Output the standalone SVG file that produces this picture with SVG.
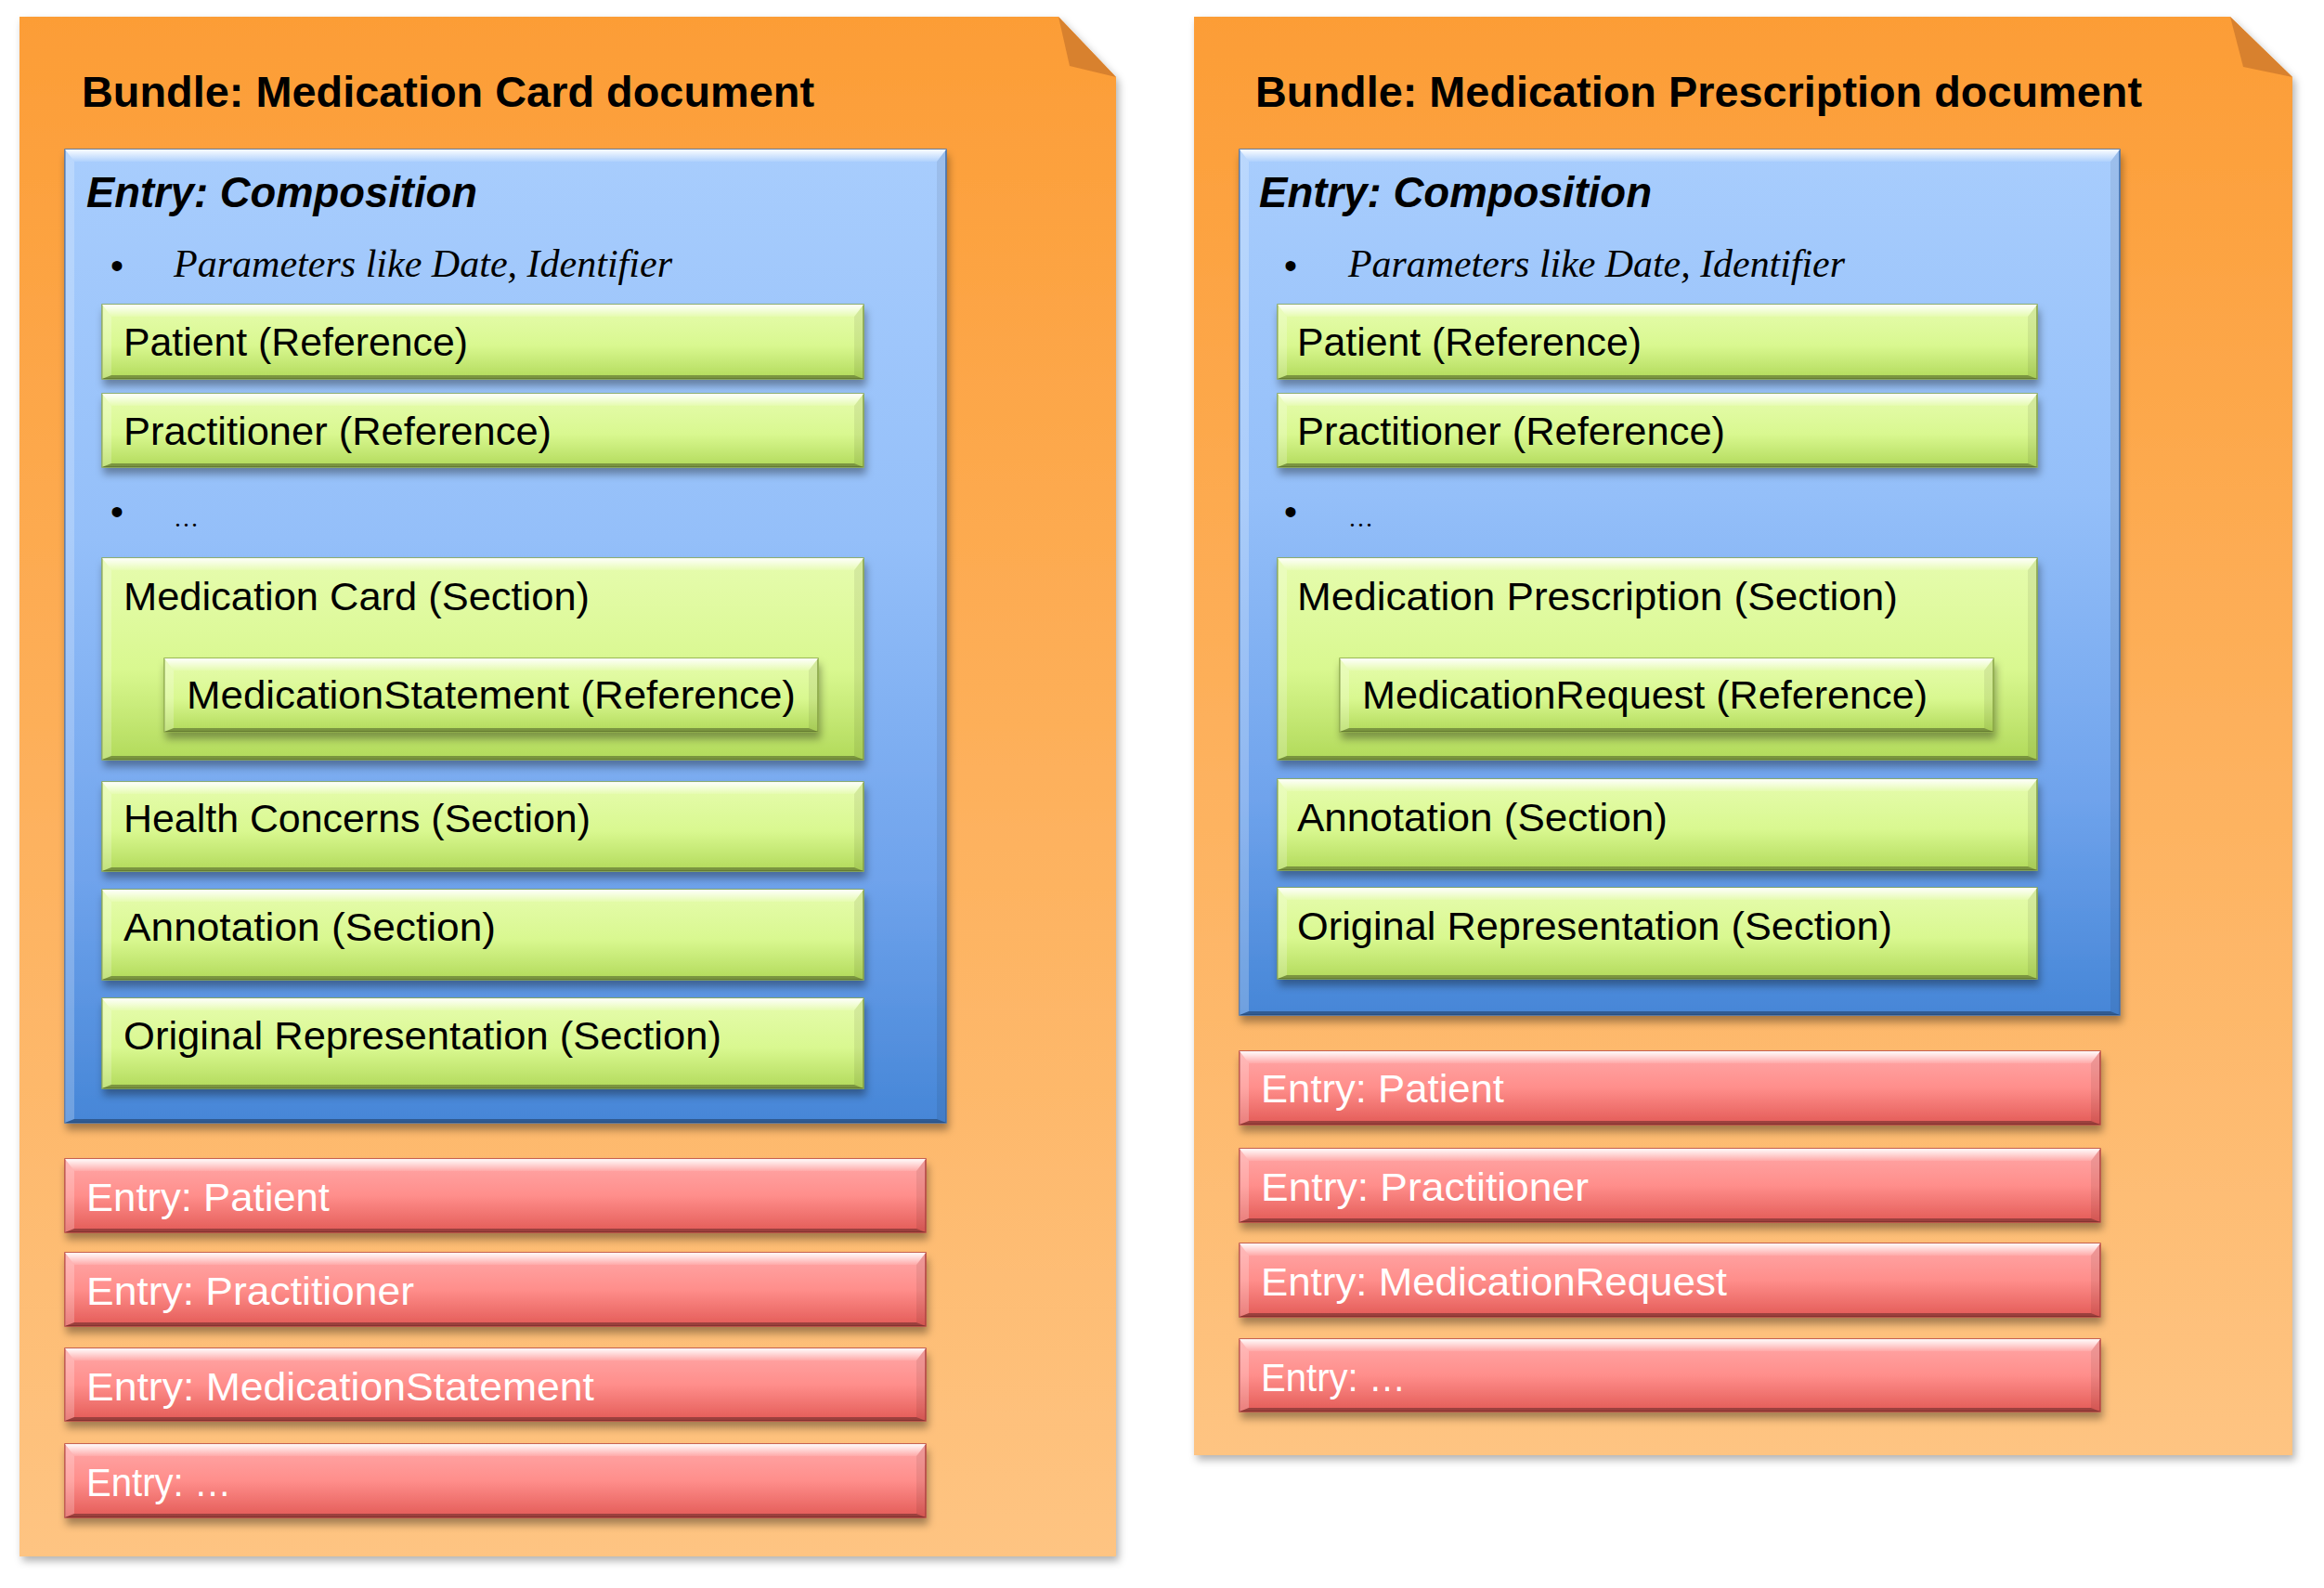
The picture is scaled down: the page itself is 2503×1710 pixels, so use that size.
<svg xmlns="http://www.w3.org/2000/svg" width="2503" height="1710" viewBox="0 0 2503 1710">
<defs>
<linearGradient id="gOr" x1="0" y1="0" x2="0" y2="1"><stop offset="0" stop-color="#FC9D36"/><stop offset="1" stop-color="#FEC482"/></linearGradient>
<linearGradient id="gBl" x1="0" y1="0" x2="0" y2="1"><stop offset="0" stop-color="#A8CDFD"/><stop offset="0.4" stop-color="#94BFF9"/><stop offset="0.75" stop-color="#6FA3EC"/><stop offset="1" stop-color="#4686D7"/></linearGradient>
<linearGradient id="gGr" x1="0" y1="0" x2="0" y2="1"><stop offset="0" stop-color="#E6FCAE"/><stop offset="0.55" stop-color="#D9F890"/><stop offset="1" stop-color="#B2DA5B"/></linearGradient>
<linearGradient id="gRd" x1="0" y1="0" x2="0" y2="1"><stop offset="0" stop-color="#FFA8A8"/><stop offset="0.5" stop-color="#FF8E8B"/><stop offset="1" stop-color="#E35B57"/></linearGradient>
<linearGradient id="gHi" x1="0" y1="0" x2="0" y2="1"><stop offset="0" stop-color="#FFFFFF" stop-opacity="0.95"/><stop offset="1" stop-color="#FFFFFF" stop-opacity="0.1"/></linearGradient>
<filter id="sh" x="-5%" y="-10%" width="110%" height="140%"><feDropShadow dx="2" dy="7" stdDeviation="4" flood-color="#000" flood-opacity="0.35"/></filter>
<filter id="shB" x="-5%" y="-5%" width="110%" height="110%"><feDropShadow dx="3" dy="5" stdDeviation="4" flood-color="#000" flood-opacity="0.3"/></filter>
<style>
.bund{fill:url(#gOr);filter:url(#shB)}
.fold{fill:#D8812E}
.blue{fill:url(#gBl);stroke:#3D72B8;stroke-width:1.5;filter:url(#sh)}
.grn{fill:url(#gGr);stroke:#8CA947;stroke-width:1.5;filter:url(#sh)}
.red{fill:url(#gRd);stroke:#B84646;stroke-width:1.5;filter:url(#sh)}
.bt{fill:url(#gHi)}
.bl{fill:#FFFFFF;fill-opacity:0.22}
.br{fill:#000;fill-opacity:0.07}
.bb{fill:#000;fill-opacity:0.32}
text{font-family:"Liberation Sans",Arial,sans-serif}
.t1{font-size:47px;font-weight:bold;fill:#000}
.t2{font-size:46px;font-weight:bold;font-style:italic;fill:#000}
.t3{font-family:"Liberation Serif","Times New Roman",serif;font-size:42px;font-style:italic;fill:#000}
.el{font-family:"Liberation Serif","Times New Roman",serif;font-size:28px;fill:#000}
.bul{font-size:40px;fill:#000;text-anchor:middle}
.tb{font-size:42px;fill:#000}
.tr{font-size:42px;fill:#FFFFFF}
</style>
</defs>
<rect width="2503" height="1710" fill="#FFFFFF"/>

<g id="bundle-card">
<path class="bund" d="M21,18 H1140 L1202,83 V1676 H21 Z"/>
<path class="fold" d="M1140,18 L1152,71 L1202,83 Z"/>
<text class="t1" x="88" y="115" textLength="789" lengthAdjust="spacingAndGlyphs">Bundle: Medication Card document</text>
</g>

<g id="composition-card">
<rect class="blue" x="70" y="161" width="949" height="1048"/>
<path class="bt" d="M70,161 H1019 L1009,174 H80 Z"/><path class="bl" d="M70,161 L80,174 V1205 L70,1209 Z"/><path class="br" d="M1019,161 L1009,174 V1205 L1019,1209 Z"/><path class="bb" d="M70,1209 L80,1205 H1009 L1019,1209 Z"/>
<text class="t2" x="93" y="223" textLength="421" lengthAdjust="spacingAndGlyphs">Entry: Composition</text>
<text class="bul" x="126" y="300">•</text>
<text class="t3" x="187" y="298" textLength="537" lengthAdjust="spacingAndGlyphs">Parameters like Date, Identifier</text>
<text class="bul" x="126" y="565">•</text>
<text class="el" x="187" y="567" textLength="27" lengthAdjust="spacingAndGlyphs">…</text>
</g>

<g id="card-patient-ref">
<rect class="grn" x="110" y="328" width="820" height="80"/>
<path class="bt" d="M110,328 H930 L920,341 H120 Z"/><path class="bl" d="M110,328 L120,341 V404 L110,408 Z"/><path class="br" d="M930,328 L920,341 V404 L930,408 Z"/><path class="bb" d="M110,408 L120,404 H920 L930,408 Z"/>
<text class="tb" x="133" y="383" textLength="371" lengthAdjust="spacingAndGlyphs">Patient (Reference)</text>
</g>
<g id="card-practitioner-ref">
<rect class="grn" x="110" y="424" width="820" height="79"/>
<path class="bt" d="M110,424 H930 L920,437 H120 Z"/><path class="bl" d="M110,424 L120,437 V499 L110,503 Z"/><path class="br" d="M930,424 L920,437 V499 L930,503 Z"/><path class="bb" d="M110,503 L120,499 H920 L930,503 Z"/>
<text class="tb" x="133" y="479" textLength="461" lengthAdjust="spacingAndGlyphs">Practitioner (Reference)</text>
</g>
<g id="card-medication-card-section">
<rect class="grn" x="110" y="601" width="820" height="217"/>
<path class="bt" d="M110,601 H930 L920,614 H120 Z"/><path class="bl" d="M110,601 L120,614 V814 L110,818 Z"/><path class="br" d="M930,601 L920,614 V814 L930,818 Z"/><path class="bb" d="M110,818 L120,814 H920 L930,818 Z"/>
<text class="tb" x="133" y="657" textLength="502" lengthAdjust="spacingAndGlyphs">Medication Card (Section)</text>
</g>
<g id="card-medicationstatement-ref">
<rect class="grn" x="177" y="709" width="704" height="79"/>
<path class="bt" d="M177,709 H881 L871,722 H187 Z"/><path class="bl" d="M177,709 L187,722 V784 L177,788 Z"/><path class="br" d="M881,709 L871,722 V784 L881,788 Z"/><path class="bb" d="M177,788 L187,784 H871 L881,788 Z"/>
<text class="tb" x="201" y="763" textLength="656" lengthAdjust="spacingAndGlyphs">MedicationStatement (Reference)</text>
</g>
<g id="card-health-concerns">
<rect class="grn" x="110" y="842" width="820" height="96"/>
<path class="bt" d="M110,842 H930 L920,855 H120 Z"/><path class="bl" d="M110,842 L120,855 V934 L110,938 Z"/><path class="br" d="M930,842 L920,855 V934 L930,938 Z"/><path class="bb" d="M110,938 L120,934 H920 L930,938 Z"/>
<text class="tb" x="133" y="896" textLength="503" lengthAdjust="spacingAndGlyphs">Health Concerns (Section)</text>
</g>
<g id="card-annotation">
<rect class="grn" x="110" y="958" width="820" height="97"/>
<path class="bt" d="M110,958 H930 L920,971 H120 Z"/><path class="bl" d="M110,958 L120,971 V1051 L110,1055 Z"/><path class="br" d="M930,958 L920,971 V1051 L930,1055 Z"/><path class="bb" d="M110,1055 L120,1051 H920 L930,1055 Z"/>
<text class="tb" x="133" y="1013" textLength="401" lengthAdjust="spacingAndGlyphs">Annotation (Section)</text>
</g>
<g id="card-original-representation">
<rect class="grn" x="110" y="1075" width="820" height="97"/>
<path class="bt" d="M110,1075 H930 L920,1088 H120 Z"/><path class="bl" d="M110,1075 L120,1088 V1168 L110,1172 Z"/><path class="br" d="M930,1075 L920,1088 V1168 L930,1172 Z"/><path class="bb" d="M110,1172 L120,1168 H920 L930,1172 Z"/>
<text class="tb" x="133" y="1130" textLength="644" lengthAdjust="spacingAndGlyphs">Original Representation (Section)</text>
</g>

<g id="card-entry-patient">
<rect class="red" x="70" y="1248" width="927" height="79"/>
<path class="bt" d="M70,1248 H997 L987,1261 H80 Z"/><path class="bl" d="M70,1248 L80,1261 V1323 L70,1327 Z"/><path class="br" d="M997,1248 L987,1261 V1323 L997,1327 Z"/><path class="bb" d="M70,1327 L80,1323 H987 L997,1327 Z"/>
<text class="tr" x="93" y="1304" textLength="262" lengthAdjust="spacingAndGlyphs">Entry: Patient</text>
</g>
<g id="card-entry-practitioner">
<rect class="red" x="70" y="1349" width="927" height="79"/>
<path class="bt" d="M70,1349 H997 L987,1362 H80 Z"/><path class="bl" d="M70,1349 L80,1362 V1424 L70,1428 Z"/><path class="br" d="M997,1349 L987,1362 V1424 L997,1428 Z"/><path class="bb" d="M70,1428 L80,1424 H987 L997,1428 Z"/>
<text class="tr" x="93" y="1405" textLength="353" lengthAdjust="spacingAndGlyphs">Entry: Practitioner</text>
</g>
<g id="card-entry-medicationstatement">
<rect class="red" x="70" y="1452" width="927" height="78"/>
<path class="bt" d="M70,1452 H997 L987,1465 H80 Z"/><path class="bl" d="M70,1452 L80,1465 V1526 L70,1530 Z"/><path class="br" d="M997,1452 L987,1465 V1526 L997,1530 Z"/><path class="bb" d="M70,1530 L80,1526 H987 L997,1530 Z"/>
<text class="tr" x="93" y="1508" textLength="547" lengthAdjust="spacingAndGlyphs">Entry: MedicationStatement</text>
</g>
<g id="card-entry-more">
<rect class="red" x="70" y="1555" width="927" height="79"/>
<path class="bt" d="M70,1555 H997 L987,1568 H80 Z"/><path class="bl" d="M70,1555 L80,1568 V1630 L70,1634 Z"/><path class="br" d="M997,1555 L987,1568 V1630 L997,1634 Z"/><path class="bb" d="M70,1634 L80,1630 H987 L997,1634 Z"/>
<text class="tr" x="93" y="1611" textLength="156" lengthAdjust="spacingAndGlyphs">Entry: …</text>
</g>

<g id="bundle-prescription">
<path class="bund" d="M1286,18 H2402 L2469,83 V1567 H1286 Z"/>
<path class="fold" d="M2402,18 L2416,72 L2469,83 Z"/>
<text class="t1" x="1352" y="115" textLength="955" lengthAdjust="spacingAndGlyphs">Bundle: Medication Prescription document</text>
</g>

<g id="composition-prescription">
<rect class="blue" x="1335" y="161" width="948" height="932"/>
<path class="bt" d="M1335,161 H2283 L2273,174 H1345 Z"/><path class="bl" d="M1335,161 L1345,174 V1089 L1335,1093 Z"/><path class="br" d="M2283,161 L2273,174 V1089 L2283,1093 Z"/><path class="bb" d="M1335,1093 L1345,1089 H2273 L2283,1093 Z"/>
<text class="t2" x="1356" y="223" textLength="423" lengthAdjust="spacingAndGlyphs">Entry: Composition</text>
<text class="bul" x="1390" y="300">•</text>
<text class="t3" x="1452" y="298" textLength="535" lengthAdjust="spacingAndGlyphs">Parameters like Date, Identifier</text>
<text class="bul" x="1390" y="565">•</text>
<text class="el" x="1452" y="567" textLength="27" lengthAdjust="spacingAndGlyphs">…</text>
</g>

<g id="presc-patient-ref">
<rect class="grn" x="1376" y="328" width="818" height="80"/>
<path class="bt" d="M1376,328 H2194 L2184,341 H1386 Z"/><path class="bl" d="M1376,328 L1386,341 V404 L1376,408 Z"/><path class="br" d="M2194,328 L2184,341 V404 L2194,408 Z"/><path class="bb" d="M1376,408 L1386,404 H2184 L2194,408 Z"/>
<text class="tb" x="1397" y="383" textLength="371" lengthAdjust="spacingAndGlyphs">Patient (Reference)</text>
</g>
<g id="presc-practitioner-ref">
<rect class="grn" x="1376" y="424" width="818" height="79"/>
<path class="bt" d="M1376,424 H2194 L2184,437 H1386 Z"/><path class="bl" d="M1376,424 L1386,437 V499 L1376,503 Z"/><path class="br" d="M2194,424 L2184,437 V499 L2194,503 Z"/><path class="bb" d="M1376,503 L1386,499 H2184 L2194,503 Z"/>
<text class="tb" x="1397" y="479" textLength="461" lengthAdjust="spacingAndGlyphs">Practitioner (Reference)</text>
</g>
<g id="presc-medication-prescription-section">
<rect class="grn" x="1376" y="601" width="818" height="217"/>
<path class="bt" d="M1376,601 H2194 L2184,614 H1386 Z"/><path class="bl" d="M1376,601 L1386,614 V814 L1376,818 Z"/><path class="br" d="M2194,601 L2184,614 V814 L2194,818 Z"/><path class="bb" d="M1376,818 L1386,814 H2184 L2194,818 Z"/>
<text class="tb" x="1397" y="657" textLength="647" lengthAdjust="spacingAndGlyphs">Medication Prescription (Section)</text>
</g>
<g id="presc-medicationrequest-ref">
<rect class="grn" x="1443" y="709" width="704" height="79"/>
<path class="bt" d="M1443,709 H2147 L2137,722 H1453 Z"/><path class="bl" d="M1443,709 L1453,722 V784 L1443,788 Z"/><path class="br" d="M2147,709 L2137,722 V784 L2147,788 Z"/><path class="bb" d="M1443,788 L1453,784 H2137 L2147,788 Z"/>
<text class="tb" x="1467" y="763" textLength="609" lengthAdjust="spacingAndGlyphs">MedicationRequest (Reference)</text>
</g>
<g id="presc-annotation">
<rect class="grn" x="1376" y="839" width="818" height="98"/>
<path class="bt" d="M1376,839 H2194 L2184,852 H1386 Z"/><path class="bl" d="M1376,839 L1386,852 V933 L1376,937 Z"/><path class="br" d="M2194,839 L2184,852 V933 L2194,937 Z"/><path class="bb" d="M1376,937 L1386,933 H2184 L2194,937 Z"/>
<text class="tb" x="1397" y="895" textLength="399" lengthAdjust="spacingAndGlyphs">Annotation (Section)</text>
</g>
<g id="presc-original-representation">
<rect class="grn" x="1376" y="956" width="818" height="98"/>
<path class="bt" d="M1376,956 H2194 L2184,969 H1386 Z"/><path class="bl" d="M1376,956 L1386,969 V1050 L1376,1054 Z"/><path class="br" d="M2194,956 L2184,969 V1050 L2194,1054 Z"/><path class="bb" d="M1376,1054 L1386,1050 H2184 L2194,1054 Z"/>
<text class="tb" x="1397" y="1012" textLength="641" lengthAdjust="spacingAndGlyphs">Original Representation (Section)</text>
</g>

<g id="presc-entry-patient">
<rect class="red" x="1335" y="1132" width="927" height="79"/>
<path class="bt" d="M1335,1132 H2262 L2252,1145 H1345 Z"/><path class="bl" d="M1335,1132 L1345,1145 V1207 L1335,1211 Z"/><path class="br" d="M2262,1132 L2252,1145 V1207 L2262,1211 Z"/><path class="bb" d="M1335,1211 L1345,1207 H2252 L2262,1211 Z"/>
<text class="tr" x="1358" y="1187" textLength="262" lengthAdjust="spacingAndGlyphs">Entry: Patient</text>
</g>
<g id="presc-entry-practitioner">
<rect class="red" x="1335" y="1237" width="927" height="79"/>
<path class="bt" d="M1335,1237 H2262 L2252,1250 H1345 Z"/><path class="bl" d="M1335,1237 L1345,1250 V1312 L1335,1316 Z"/><path class="br" d="M2262,1237 L2252,1250 V1312 L2262,1316 Z"/><path class="bb" d="M1335,1316 L1345,1312 H2252 L2262,1316 Z"/>
<text class="tr" x="1358" y="1293" textLength="353" lengthAdjust="spacingAndGlyphs">Entry: Practitioner</text>
</g>
<g id="presc-entry-medicationrequest">
<rect class="red" x="1335" y="1339" width="927" height="79"/>
<path class="bt" d="M1335,1339 H2262 L2252,1352 H1345 Z"/><path class="bl" d="M1335,1339 L1345,1352 V1414 L1335,1418 Z"/><path class="br" d="M2262,1339 L2252,1352 V1414 L2262,1418 Z"/><path class="bb" d="M1335,1418 L1345,1414 H2252 L2262,1418 Z"/>
<text class="tr" x="1358" y="1395" textLength="502" lengthAdjust="spacingAndGlyphs">Entry: MedicationRequest</text>
</g>
<g id="presc-entry-more">
<rect class="red" x="1335" y="1442" width="927" height="78"/>
<path class="bt" d="M1335,1442 H2262 L2252,1455 H1345 Z"/><path class="bl" d="M1335,1442 L1345,1455 V1516 L1335,1520 Z"/><path class="br" d="M2262,1442 L2252,1455 V1516 L2262,1520 Z"/><path class="bb" d="M1335,1520 L1345,1516 H2252 L2262,1520 Z"/>
<text class="tr" x="1358" y="1498" textLength="156" lengthAdjust="spacingAndGlyphs">Entry: …</text>
</g>

<g id="connectors"/>
</svg>
